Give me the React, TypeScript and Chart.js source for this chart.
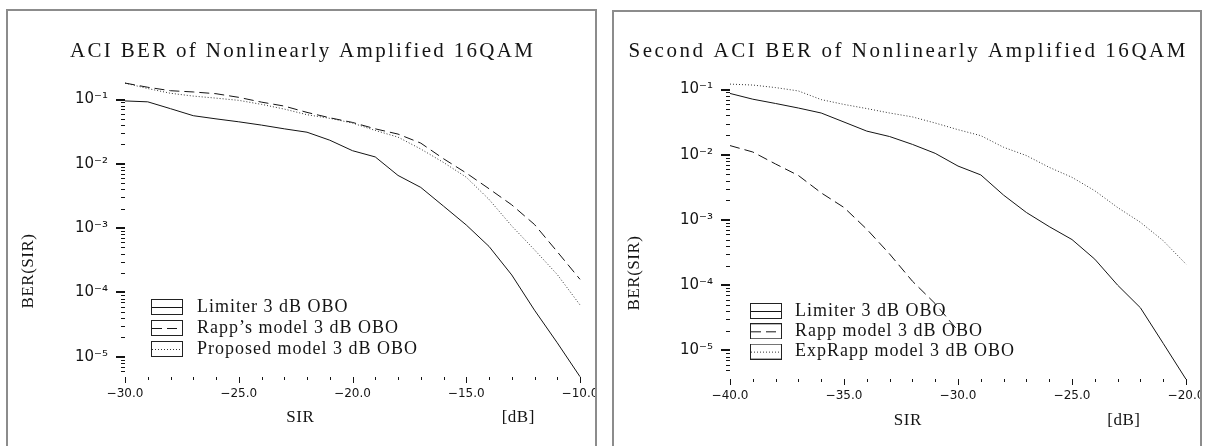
import React, { useEffect, useRef } from "react";
import { Chart, registerables } from "chart.js";

Chart.register(...registerables);

// ---------------- data ----------------
const SIR_LEFT = [-30, -29, -28, -27, -26, -25, -24, -23, -22, -21, -20, -19, -18, -17, -16, -15, -14, -13, -12, -11, -10];
const LIMITER_LEFT = [0.095, 0.092, 0.072, 0.056, 0.05, 0.045, 0.04, 0.035, 0.031, 0.0233, 0.016, 0.0128, 0.0066, 0.0043, 0.0022, 0.00112, 0.00052, 0.000187, 0.000053, 0.0000165, 0.0000049];
const RAPP_LEFT = [0.18, 0.155, 0.137, 0.131, 0.123, 0.108, 0.091, 0.079, 0.063, 0.052, 0.044, 0.035, 0.029, 0.021, 0.012, 0.0072, 0.0041, 0.0023, 0.00114, 0.00043, 0.00016];
const PROPOSED_LEFT = [0.18, 0.148, 0.125, 0.113, 0.105, 0.097, 0.084, 0.071, 0.058, 0.051, 0.043, 0.033, 0.026, 0.017, 0.0105, 0.0062, 0.0028, 0.00108, 0.00046, 0.00019, 0.000064];
const LABELS_LEFT = ["Limiter 3 dB OBO", "Rapp\u2019s model 3 dB OBO", "Proposed model 3 dB OBO"];
const TITLE_LEFT = "ACI BER of Nonlinearly Amplified 16QAM";
const Y_RANGE_LEFT = [4.9e-6, 0.1];

const SIR_RIGHT = [-40, -39, -38, -37, -36, -35, -34, -33, -32, -31, -30, -29, -28, -27, -26, -25, -24, -23, -22, -21, -20];
const LIMITER_RIGHT = [0.087, 0.071, 0.061, 0.052, 0.0436, 0.0317, 0.023, 0.019, 0.0144, 0.0105, 0.0067, 0.0049, 0.0024, 0.0013, 0.00079, 0.0005, 0.00025, 0.0001, 0.000045, 0.0000128, 0.0000036];
const RAPP_RIGHT = [0.0138, 0.011, 0.0072, 0.0048, 0.0026, 0.00155, 0.00072, 0.0003, 0.000115, 0.000052, 0.00002];
const EXPRAPP_RIGHT = [0.121, 0.117, 0.107, 0.095, 0.07, 0.059, 0.051, 0.0436, 0.038, 0.0306, 0.0242, 0.0196, 0.013, 0.0097, 0.0064, 0.0045, 0.0028, 0.00155, 0.00092, 0.00048, 0.00021];
const LABELS_RIGHT = ["Limiter 3 dB OBO", "Rapp model 3 dB OBO", "ExpRapp model 3 dB OBO"];
const TITLE_RIGHT = "Second ACI BER of Nonlinearly Amplified 16QAM";
const Y_RANGE_RIGHT = [3.7e-6, 0.1];

const X_TITLE = "SIR";
const X_UNIT = "[dB]";
const Y_TITLE = "BER(SIR)";
const X_MAJOR_STEP = 5;

// ---------------- styles ----------------
const SERIF = '"Liberation Serif", "Times New Roman", serif';
const SANS = '"DejaVu Sans", "Liberation Sans", sans-serif';
const INK = "#141414";
const SOLID: number[] = [];
const DASHED = [10, 5];
const DOTTED = [1, 2];
const AXIS_SP = 0.5;
const LEGEND_SP = 1;

const SUP: Record<string, string> = {
  "-": "\u207B", "0": "\u2070", "1": "\u00B9", "2": "\u00B2", "3": "\u00B3",
  "4": "\u2074", "5": "\u2075", "6": "\u2076", "7": "\u2077", "8": "\u2078", "9": "\u2079",
};
const toSup = (n: number) => String(n).split("").map((c) => SUP[c] ?? c).join("");
const fmtX = (v: number) => v.toFixed(1).replace("-", "\u2212");
const isDecade = (v: number) => {
  const e = Math.log10(v);
  return Math.abs(e - Math.round(e)) < 1e-6;
};

type Series = { label: string; values: number[]; dash: number[]; color: string };
type PanelSpec = {
  title: string;
  sir: number[];
  series: Series[];
  yRange: number[];
  box: { left: number; top: number; width: number };
  canvasW: number;
  canvasH: number;
  area: { left: number; right: number; top: number; bottom: number };
  titleCx: number; titleCy: number; titleW: number;
  yTitleCx: number; yTitleCy: number;
  xTitleCx: number; xTitleCy: number; unitCx: number;
  legendX: number; legendY: number; legendGap: number; sampleW: number;
};

const LEFT: PanelSpec = {
  title: TITLE_LEFT,
  sir: SIR_LEFT,
  series: [
    { label: LABELS_LEFT[0], values: LIMITER_LEFT, dash: SOLID, color: INK },
    { label: LABELS_LEFT[1], values: RAPP_LEFT, dash: DASHED, color: INK },
    { label: LABELS_LEFT[2], values: PROPOSED_LEFT, dash: DOTTED, color: "#333" },
  ],
  yRange: Y_RANGE_LEFT,
  box: { left: 6, top: 9, width: 591 },
  canvasW: 640,
  canvasH: 435,
  area: { left: 117, right: 572, top: 88.5, bottom: 365.7 },
  titleCx: 293.5, titleCy: 40, titleW: 463,
  yTitleCx: 21, yTitleCy: 260,
  xTitleCx: 292, xTitleCy: 407, unitCx: 510,
  legendX: 143, legendY: 296, legendGap: 3, sampleW: 37,
};

const RIGHT: PanelSpec = {
  title: TITLE_RIGHT,
  sir: SIR_RIGHT,
  series: [
    { label: LABELS_RIGHT[0], values: LIMITER_RIGHT, dash: SOLID, color: INK },
    { label: LABELS_RIGHT[1], values: RAPP_RIGHT, dash: DASHED, color: INK },
    { label: LABELS_RIGHT[2], values: EXPRAPP_RIGHT, dash: DOTTED, color: "#333" },
  ],
  yRange: Y_RANGE_RIGHT,
  box: { left: 612, top: 10, width: 590 },
  canvasW: 640,
  canvasH: 434,
  area: { left: 116, right: 572, top: 77.5, bottom: 366.5 },
  titleCx: 293, titleCy: 39.5, titleW: 557,
  yTitleCx: 21, yTitleCy: 261,
  xTitleCx: 293.6, xTitleCy: 409, unitCx: 509.6,
  legendX: 136, legendY: 299, legendGap: 2.3, sampleW: 36,
};

function makeSample(dash: number[], color: string, w: number) {
  const c = document.createElement("canvas");
  c.width = w;
  c.height = 16;
  const g = c.getContext("2d")!;
  g.strokeStyle = "#222";
  g.lineWidth = 1;
  g.strokeRect(0.5, 0.5, 31, 15);
  g.strokeStyle = color;
  g.setLineDash(dash);
  g.beginPath();
  g.moveTo(1, 8.5);
  g.lineTo(31, 8.5);
  g.stroke();
  return c;
}

function buildChart(canvas: HTMLCanvasElement, p: PanelSpec) {
  const W = p.canvasW;
  const H = p.canvasH;
  const A = p.area;
  const XH = 60;
  const TITLE_SIZE = 21;
  const TITLE_LH = TITLE_SIZE * 1.2;
  const AXIS_SIZE = 17;
  const AXIS_LH = AXIS_SIZE * 1.2;
  const LEGEND_SIZE = 18;

  const datasets = p.series.map((s) => ({
    label: s.label,
    data: s.values.map((y, i) => ({ x: p.sir[i], y })),
    borderColor: s.color,
    backgroundColor: s.color,
    borderWidth: 1,
    borderDash: s.dash,
    pointRadius: 0,
    pointHoverRadius: 0,
    fill: false,
    tension: 0,
    clip: false as any,
  }));
  const samples = p.series.map((s) => makeSample(s.dash, s.color, p.sampleW));

  const decor = {
    id: "decor",
    beforeDraw(chart: any) {
      if (chart.__installed) return;
      chart.__installed = true;
      const ctx: any = chart.ctx;

      const tb = chart.titleBlock;
      if (tb) {
        const orig = tb.draw.bind(tb);
        tb.draw = () => {
          ctx.save();
          ctx.font = `${TITLE_SIZE}px ${SERIF}`;
          const nat = ctx.measureText(p.title).width;
          const sp = (p.titleW - nat) / (p.title.length - 1);
          ctx.letterSpacing = `${sp}px`;
          ctx.translate(p.titleCx - (tb.left + tb.right) / 2 + sp / 2, 0);
          orig();
          ctx.restore();
        };
      }
      const xs = chart.scales.x;
      const xDT = xs.drawTitle;
      xs.drawTitle = function () {
        ctx.save();
        ctx.letterSpacing = `${AXIS_SP}px`;
        ctx.translate(p.xTitleCx - (xs.left + xs.right) / 2 + AXIS_SP / 2, 0);
        xDT.call(xs);
        ctx.restore();
      };
      const ys = chart.scales.y;
      const yDT = ys.drawTitle;
      ys.drawTitle = function () {
        ctx.save();
        ctx.letterSpacing = `${AXIS_SP}px`;
        ctx.translate(0, p.yTitleCy - (ys.top + ys.bottom) / 2);
        yDT.call(ys);
        ctx.restore();
      };
      const lg = chart.legend;
      if (lg) {
        const orig = lg.draw.bind(lg);
        lg.draw = () => {
          const hb = lg.legendHitBoxes && lg.legendHitBoxes[0];
          if (!hb) {
            orig();
            return;
          }
          ctx.save();
          ctx.letterSpacing = `${LEGEND_SP}px`;
          ctx.translate(p.legendX - hb.left, p.legendY - (hb.top + LEGEND_SIZE / 2));
          orig();
          ctx.restore();
        };
      }
    },
    afterDraw(chart: any) {
      const ctx: any = chart.ctx;
      const { left, bottom } = chart.chartArea;
      const xs = chart.scales.x;
      const ys = chart.scales.y;
      ctx.save();
      ctx.fillStyle = INK;
      const by = Math.round(bottom);
      for (const t of xs.ticks) {
        const px = Math.round(xs.getPixelForValue(t.value));
        const major = Math.abs(t.value % X_MAJOR_STEP) < 1e-9;
        ctx.fillRect(px, by, 1, major ? 6 : 3);
      }
      const lx = Math.round(left);
      for (const t of ys.ticks) {
        const v = t.value;
        const e = Math.floor(Math.log10(v) + 1e-9);
        const sig = v / Math.pow(10, e);
        if (Math.abs(sig - Math.round(sig)) > 1e-6) continue;
        const py = Math.round(ys.getPixelForValue(v));
        if (Math.round(sig) === 1 || Math.round(sig) === 10) {
          ctx.fillRect(lx - 9, py - 1, 9, 2);
        } else {
          ctx.fillRect(lx - 4, py, 4, 1);
        }
      }
      ctx.font = `${AXIS_SIZE}px ${SERIF}`;
      ctx.letterSpacing = `${AXIS_SP}px`;
      ctx.textAlign = "center";
      ctx.textBaseline = "middle";
      ctx.fillText(X_UNIT, p.unitCx + AXIS_SP / 2, p.xTitleCy);
      ctx.restore();
    },
  };

  const titlePadTop = p.titleCy - TITLE_LH / 2;
  const titlePadBottom = A.top - titlePadTop - TITLE_LH;

  return new Chart(canvas, {
    type: "line",
    data: { datasets: datasets as any },
    options: {
      responsive: false,
      animation: false,
      events: [],
      layout: { padding: { left: 0, top: 0, right: W - A.right, bottom: H - A.bottom - XH } },
      plugins: {
        title: {
          display: true,
          text: p.title,
          color: INK,
          font: { family: SERIF, size: TITLE_SIZE, weight: "normal" },
          padding: { top: titlePadTop, bottom: titlePadBottom },
        },
        legend: {
          display: true,
          position: "chartArea" as any,
          align: "start",
          labels: {
            usePointStyle: true,
            pointStyleWidth: p.sampleW,
            color: INK,
            font: { family: SERIF, size: LEGEND_SIZE },
            padding: p.legendGap,
            generateLabels: () =>
              samples.map((img, i) => ({
                text: p.series[i].label,
                pointStyle: img as any,
                datasetIndex: i,
                hidden: false,
                fontColor: INK,
                lineWidth: 0,
                strokeStyle: "rgba(0,0,0,0)",
                fillStyle: "rgba(0,0,0,0)",
              })),
          },
        },
        tooltip: { enabled: false },
      },
      scales: {
        x: {
          type: "linear",
          min: p.sir[0],
          max: p.sir[p.sir.length - 1],
          afterFit: (s: any) => {
            s.height = XH;
          },
          grid: { display: false, drawTicks: false },
          border: { display: false },
          ticks: {
            stepSize: 1,
            autoSkip: false,
            maxRotation: 0,
            minRotation: 0,
            padding: 10,
            color: INK,
            font: { family: SANS, size: 12 },
            callback: (v: any) => (Math.abs(Number(v) % X_MAJOR_STEP) < 1e-9 ? fmtX(Number(v)) : ""),
          },
          title: {
            display: true,
            text: X_TITLE,
            color: INK,
            font: { family: SERIF, size: AXIS_SIZE },
            padding: { top: 0, bottom: A.bottom + XH - p.xTitleCy - AXIS_LH / 2 },
          },
        },
        y: {
          type: "logarithmic",
          min: p.yRange[0],
          max: p.yRange[1],
          afterFit: (s: any) => {
            s.width = A.left;
          },
          grid: { display: false, drawTicks: false },
          border: { display: false },
          ticks: {
            autoSkip: false,
            padding: 17,
            color: INK,
            font: { family: SANS, size: 15 },
            callback: (v: any) => (isDecade(Number(v)) ? "10" + toSup(Math.round(Math.log10(Number(v)))) : ""),
          },
          title: {
            display: true,
            text: Y_TITLE,
            color: INK,
            font: { family: SERIF, size: AXIS_SIZE },
            padding: { top: p.yTitleCx - AXIS_LH / 2, bottom: 0 },
          },
        },
      },
    },
    plugins: [decor],
  } as any);
}

function Panel({ spec }: { spec: PanelSpec }) {
  const ref = useRef<HTMLCanvasElement>(null);
  useEffect(() => {
    const canvas = ref.current;
    if (!canvas) return;
    const chart = buildChart(canvas, spec);
    return () => chart.destroy();
  }, [spec]);
  return (
    <div
      style={{
        position: "absolute",
        left: spec.box.left,
        top: spec.box.top,
        width: spec.box.width,
        height: 480,
        boxSizing: "border-box",
        border: "2px solid #8c8c8c",
        overflow: "hidden",
        background: "#fff",
      }}
    >
      <canvas ref={ref} width={spec.canvasW} height={spec.canvasH} style={{ display: "block" }} />
    </div>
  );
}

export default function App() {
  return (
    <div style={{ position: "fixed", left: 0, top: 0, right: 0, bottom: 0, overflow: "hidden", background: "#fff" }}>
      <Panel spec={LEFT} />
      <Panel spec={RIGHT} />
    </div>
  );
}
